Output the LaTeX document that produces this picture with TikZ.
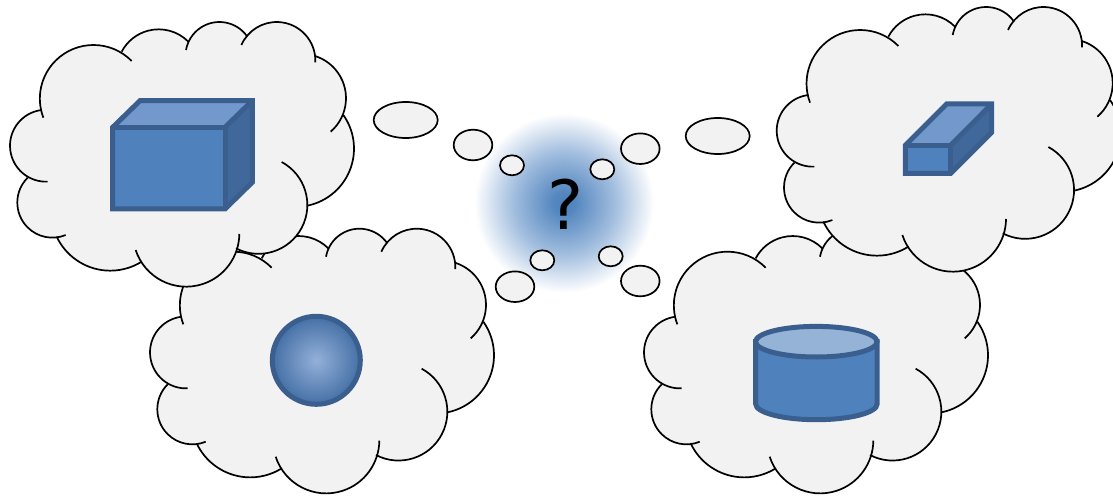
\documentclass[tikz,border=0pt]{standalone}
\usepackage{fontspec}
\newfontfamily\qfont{DejaVu Sans}
\definecolor{cloudgray}{HTML}{F2F2F2}
\definecolor{shapeedge}{HTML}{3A5F8F}
\definecolor{shapeface}{HTML}{4F81BD}
\definecolor{shapetop}{HTML}{7399CC}
\definecolor{shapeside}{HTML}{41689A}
\definecolor{cyltop}{HTML}{95B3D7}
\pgfdeclareradialshading{glowshade}{\pgfpointorigin}{rgb(0bp)=(0.31,0.51,0.74);rgb(3bp)=(0.33,0.53,0.75);rgb(14bp)=(0.63,0.74,0.87);rgb(25bp)=(1,1,1);rgb(50bp)=(1,1,1)}
\pgfdeclareradialshading{sphereshade}{\pgfpointorigin}{rgb(0bp)=(0.58,0.69,0.85);rgb(25bp)=(0.27,0.44,0.65);rgb(50bp)=(0.27,0.44,0.65)}
\tikzset{
  cloudline/.style={draw=black,line width=1.7pt,line cap=butt},
  cloudfill/.style={fill=cloudgray},
  bubble/.style={draw=black,fill=cloudgray,line width=1.7pt},
  solid3d/.style={draw=shapeedge,line width=5pt,line join=miter},
}
\newif\iflobefill
\newcommand{\lobe}[6]{%
  \pgfmathsetmacro\mAx{#1/300}\pgfmathsetmacro\mAy{-#2/300}%
  \pgfmathsetmacro\mBx{#3/300}\pgfmathsetmacro\mBy{-#4/300}%
  \pgfmathsetmacro\mCx{#5/300}\pgfmathsetmacro\mCy{-#6/300}%
  \pgfmathsetmacro\mD{2*(\mAx*(\mBy-\mCy)+\mBx*(\mCy-\mAy)+\mCx*(\mAy-\mBy))}%
  \pgfmathsetmacro\mSa{\mAx*\mAx+\mAy*\mAy}%
  \pgfmathsetmacro\mSb{\mBx*\mBx+\mBy*\mBy}%
  \pgfmathsetmacro\mSc{\mCx*\mCx+\mCy*\mCy}%
  \pgfmathsetmacro\mUx{(\mSa*(\mBy-\mCy)+\mSb*(\mCy-\mAy)+\mSc*(\mAy-\mBy))/\mD}%
  \pgfmathsetmacro\mUy{(\mSa*(\mCx-\mBx)+\mSb*(\mAx-\mCx)+\mSc*(\mBx-\mAx))/\mD}%
  \pgfmathsetmacro\mR{100*sqrt((\mAx-\mUx)*(\mAx-\mUx)+(\mAy-\mUy)*(\mAy-\mUy))}%
  \pgfmathsetmacro\mAa{atan2(\mAy-\mUy,\mAx-\mUx)}%
  \pgfmathsetmacro\mAc{atan2(\mCy-\mUy,\mCx-\mUx)}%
  \pgfmathsetmacro\mAe{\mAa+mod(\mAc-\mAa+720,360)}%
  \iflobefill
    \path[cloudfill] (100*\mUx,100*\mUy) circle[radius=\mR pt];
  \else
    \draw[cloudline] (100*\mAx,100*\mAy) arc[start angle=\mAa,end angle=\mAe,radius=\mR pt];
  \fi
}
\newcommand{\lobes}{%
  \lobe{125}{300}{30}{408}{143}{515}%
  \lobe{83}{503}{52}{575}{197}{675}%
  \lobe{170}{680}{330}{782}{425}{755}%
  \lobe{407}{720}{555}{830}{718}{672}%
  \lobe{708}{715}{922}{590}{845}{456}%
  \lobe{922}{587}{1062}{420}{1030}{315}%
  \lobe{992}{365}{1038}{265}{945}{138}%
  \lobe{946}{157}{830}{36}{724}{105}%
  \lobe{742}{80}{660}{36}{558}{120}%
  \lobe{565}{95}{475}{58}{365}{125}%
  \lobe{395}{153}{280}{105}{130}{323}%
}
\newcommand{\cloudat}[2]{%
  \begin{scope}[shift={(#1,496-#2)}]
    \path[cloudfill] (125/3,-300/3)--(83/3,-503/3)--(170/3,-680/3)--(425/3,-755/3)--(708/3,-715/3)--(922/3,-587/3)--(1030/3,-315/3)--(945/3,-138/3)--(742/3,-80/3)--(565/3,-95/3)--(365/3,-125/3)--cycle;
    \lobefilltrue\lobes
    \lobefillfalse\lobes
  \end{scope}}
\begin{document}
\begin{tikzpicture}[x=1pt,y=1pt]
\clip (0,0) rectangle (1113,496);
% clouds
\cloudat{140}{216.7}
\cloudat{0}{10}
\cloudat{634}{216.7}
\cloudat{766.7}{-5}
% glow and question mark
\shade[shading=glowshade] (564,293) circle (90);
\node[font=\qfont\fontsize{68}{68}\selectfont,inner sep=0pt] (qmark) at (565.5,291.5) {?};
% bubbles
\draw[bubble] (405.7,376) ellipse (32 and 18);
\draw[bubble] (473,351) ellipse (19.3 and 15.3);
\draw[bubble] (512,330.7) ellipse (12 and 10);
\draw[bubble] (602.3,326.7) ellipse (12 and 10);
\draw[bubble] (640.3,347.3) ellipse (19.3 and 15.3);
\draw[bubble] (717.7,360) ellipse (32 and 18);
\draw[bubble] (542.3,235.7) ellipse (12 and 10);
\draw[bubble] (515,209.3) ellipse (19.3 and 15.3);
\draw[bubble] (610.7,239.7) ellipse (12 and 10);
\draw[bubble] (640.3,215) ellipse (19.3 and 15.3);
% large box
\fill[shapeside] (225,368.7)--(252.3,395.3)--(252.3,313.7)--(225,287)--cycle;
\fill[shapetop] (112.7,368.7)--(140,395.3)--(252.3,395.3)--(225,368.7)--cycle;
\fill[shapeface] (112.7,368.7) rectangle (225,287);
\draw[solid3d] (112.7,368.7)--(140,395.3)--(252.3,395.3)--(252.3,313.7)--(225,287)--(112.7,287)--cycle;
\draw[solid3d] (112.7,368.7)--(225,368.7)--(225,287);
\draw[solid3d] (225,368.7)--(252.3,395.3);
% small box
\fill[shapeside] (950.7,350.7)--(991.7,392)--(991.7,363.7)--(950.7,322.7)--cycle;
\fill[shapetop] (905.3,350.7)--(946.7,392)--(991.7,392)--(950.7,350.7)--cycle;
\fill[shapeface] (905.3,350.7) rectangle (950.7,322.7);
\draw[solid3d] (905.3,350.7)--(946.7,392)--(991.7,392)--(991.7,363.7)--(950.7,322.7)--(905.3,322.7)--cycle;
\draw[solid3d] (905.3,350.7)--(950.7,350.7)--(950.7,322.7);
\draw[solid3d] (950.7,350.7)--(991.7,392);
% sphere
\draw[solid3d,shading=sphereshade] (316.3,135.7) circle (44);
% cylinder
\draw[solid3d,fill=shapeface] (755.7,154.3)--(755.7,92) arc[start angle=180,end angle=360,x radius=60.7,y radius=15.7]--(877,154.3)--cycle;
\draw[solid3d,fill=cyltop] (816.3,154.3) ellipse (60.7 and 15.3);
\end{tikzpicture}
\end{document}
